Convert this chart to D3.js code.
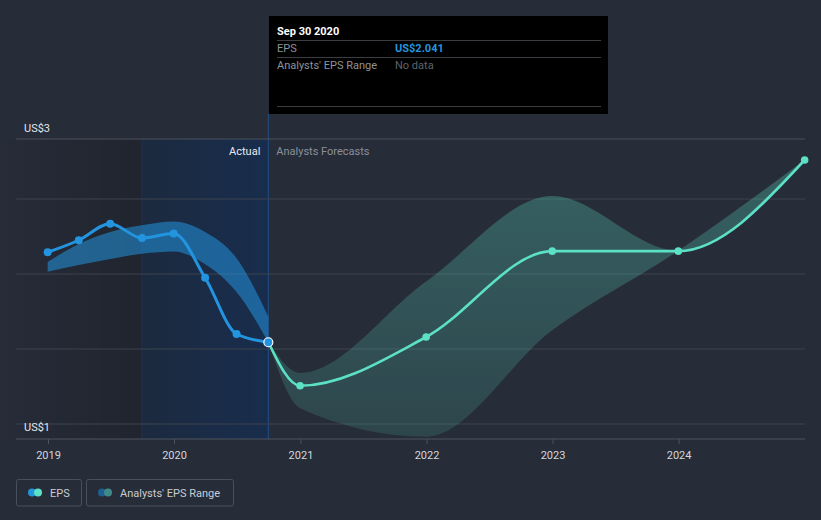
<!DOCTYPE html>
<html>
<head>
<meta charset="utf-8">
<script src="https://cdn.jsdelivr.net/npm/d3@7"></script>
<style>
  html, body { margin: 0; padding: 0; background: #262c38; }
  svg { display: block; font-family: Roboto, "Noto Sans", sans-serif; }
</style>
</head>
<body>
<svg width="821" height="520"></svg>
<script>
let width = 821,
  height = 520;

// EPS data (quarter ends)
const actualDates = ["2018-12-31", "2019-03-31", "2019-06-30", "2019-09-30", "2019-12-31", "2020-03-31", "2020-06-30", "2020-09-30"];
const actualEps = [3.29, 3.45, 3.67, 3.48, 3.54, 2.95, 2.20, 2.09];
const pastRangeLow = [3.03, 3.12, 3.20, 3.27, 3.30, 3.13, 2.76, 2.09];
const pastRangeHigh = [3.16, 3.40, 3.56, 3.65, 3.70, 3.56, 3.21, 2.43];

const forecastDates = ["2020-09-30", "2020-12-31", "2021-12-31", "2022-12-31", "2023-12-31", "2024-12-31"];
const forecastEps = [2.09, 1.51, 2.16, 3.305, 3.305, 4.52];
const forecastLow = [2.09, 1.21, 0.83, 2.25, 3.31, 4.52];
const forecastHigh = [2.09, 1.68, 2.90, 4.04, 3.31, 4.55];

const yearTicks = [2019, 2020, 2021, 2022, 2023, 2024];
const gridValues = [1, 2, 3, 4];
const yLabels = ["US$3", "US$1"];

const parse = d3.timeParse("%Y-%m-%d");

let svg = d3.select("svg");

let x = d3.scaleTime()
  .domain([new Date(2019, 0, 1), new Date(2025, 0, 1)])
  .range([48, 805]);

let y = d3.scaleLinear()
  .domain([1, 4.8])
  .range([424, 139]);

let plotLeft = 16, plotRight = 805, plotTop = y(4.8), plotBottom = 439;
let yearAgo = x(parse("2019-09-30")), now = x(parse("2020-09-30"));

let actual = actualDates.map((d, i) => ({ date: parse(d), v: actualEps[i], lo: pastRangeLow[i], hi: pastRangeHigh[i] }));
let forecast = forecastDates.map((d, i) => ({ date: parse(d), v: forecastEps[i], lo: forecastLow[i], hi: forecastHigh[i] }));

// gradients
let defs = svg.append("defs");
let g1 = defs.append("linearGradient").attr("id", "darkShade")
  .attr("gradientUnits", "userSpaceOnUse")
  .attr("x1", 0).attr("x2", yearAgo).attr("y1", 0).attr("y2", 0);
g1.append("stop").attr("offset", 0).attr("stop-color", "#000").attr("stop-opacity", 0);
g1.append("stop").attr("offset", 1).attr("stop-color", "#000").attr("stop-opacity", 0.17);

let g2 = defs.append("linearGradient").attr("id", "blueShade")
  .attr("gradientUnits", "userSpaceOnUse")
  .attr("x1", yearAgo).attr("x2", now).attr("y1", 0).attr("y2", 0);
g2.append("stop").attr("offset", 0).attr("stop-color", "#1c2a3f");
g2.append("stop").attr("offset", 1).attr("stop-color", "#182d4d");

let g3 = defs.append("linearGradient").attr("id", "tealBand")
  .attr("gradientUnits", "userSpaceOnUse")
  .attr("x1", 0).attr("x2", 0).attr("y1", 160).attr("y2", 440);
g3.append("stop").attr("offset", 0).attr("stop-color", "#5ce0c6").attr("stop-opacity", 0.3);
g3.append("stop").attr("offset", 1).attr("stop-color", "#5ce0c6").attr("stop-opacity", 0.14);

// background regions
svg.append("rect")
  .attr("x", 0).attr("y", plotTop)
  .attr("width", yearAgo).attr("height", plotBottom - plotTop)
  .attr("fill", "url(#darkShade)");

svg.append("rect")
  .attr("x", yearAgo).attr("y", plotTop)
  .attr("width", now - yearAgo).attr("height", plotBottom - plotTop)
  .attr("fill", "url(#blueShade)");

svg.append("line")
  .attr("x1", yearAgo).attr("x2", yearAgo).attr("y1", plotTop).attr("y2", plotBottom)
  .attr("stroke", "#1f3250").attr("stroke-width", 1);

svg.append("line")
  .attr("x1", now).attr("x2", now).attr("y1", 114).attr("y2", plotBottom)
  .attr("stroke", "#1f4a7a").attr("stroke-width", 1.2);

// grid lines
svg.append("g")
  .selectAll("line")
  .data(gridValues)
  .enter()
  .append("line")
  .attr("x1", plotLeft).attr("x2", plotRight)
  .attr("y1", (d) => y(d)).attr("y2", (d) => y(d))
  .attr("stroke", "#3c424e").attr("stroke-width", 1);

svg.append("line")
  .attr("x1", plotLeft).attr("x2", plotRight).attr("y1", plotTop).attr("y2", plotTop)
  .attr("stroke", "#4a505b").attr("stroke-width", 1);

// x axis
let xAxis = d3.axisBottom(x)
  .tickValues(yearTicks.map((yr) => new Date(yr, 0, 1)))
  .tickFormat(d3.timeFormat("%Y"))
  .tickSize(5)
  .tickSizeOuter(0);

let axisG = svg.append("g")
  .attr("transform", "translate(0," + plotBottom + ")")
  .call(xAxis);
axisG.select(".domain").remove();
axisG.insert("line", ":first-child")
  .attr("x1", plotLeft).attr("x2", plotRight).attr("y1", 0).attr("y2", 0)
  .attr("stroke", "#4d535e");
axisG.selectAll(".tick line").attr("stroke", "#4d535e");
axisG.selectAll(".tick text")
  .attr("fill", "#d4d7dc")
  .attr("font-size", "11px")
  .attr("dy", "1.05em")
  .style("font-family", "Roboto, sans-serif");

// y labels
svg.append("text")
  .attr("x", 24).attr("y", 132)
  .attr("fill", "#e4e6ea").attr("font-size", "11px")
  .text(yLabels[0]);
svg.append("text")
  .attr("x", 24).attr("y", 431)
  .attr("fill", "#e4e6ea").attr("font-size", "11px")
  .text(yLabels[1]);

// section labels
svg.append("text")
  .attr("x", now - 8).attr("y", 155)
  .attr("text-anchor", "end")
  .attr("fill", "#e8eaee").attr("font-size", "11px")
  .text("Actual");
svg.append("text")
  .attr("x", now + 8).attr("y", 155)
  .attr("fill", "#8b9099").attr("font-size", "11px")
  .text("Analysts Forecasts");

// bands
let band = d3.area()
  .x((d) => x(d.date))
  .y0((d) => y(d.lo))
  .y1((d) => y(d.hi))
  .curve(d3.curveMonotoneX);

svg.append("path")
  .datum(actual)
  .attr("d", band)
  .attr("fill", "#2394df")
  .attr("fill-opacity", 0.55);

svg.append("path")
  .datum(forecast)
  .attr("d", band)
  .attr("fill", "url(#tealBand)");

// lines
let line = d3.line()
  .x((d) => x(d.date))
  .y((d) => y(d.v))
  .curve(d3.curveMonotoneX);

svg.append("path")
  .datum(forecast)
  .attr("d", line)
  .attr("fill", "none")
  .attr("stroke", "#5ce0c6")
  .attr("stroke-width", 2.6);

svg.append("path")
  .datum(actual)
  .attr("d", line)
  .attr("fill", "none")
  .attr("stroke", "#2394df")
  .attr("stroke-width", 3);

svg.append("g")
  .selectAll("circle")
  .data(forecast.slice(1))
  .enter()
  .append("circle")
  .attr("cx", (d) => x(d.date))
  .attr("cy", (d) => y(d.v))
  .attr("r", 3.8)
  .attr("fill", "#5ce0c6");

svg.append("g")
  .selectAll("circle")
  .data(actual)
  .enter()
  .append("circle")
  .attr("cx", (d) => x(d.date))
  .attr("cy", (d) => y(d.v))
  .attr("r", (d, i) => i == actual.length - 1 ? 4.5 : 4)
  .attr("fill", "#2394df")
  .attr("stroke", (d, i) => i == actual.length - 1 ? "#ffffff" : "none")
  .attr("stroke-width", 1.2);

// tooltip
let tip = svg.append("g");
tip.append("rect")
  .attr("x", 269).attr("y", 16)
  .attr("width", 339).attr("height", 98)
  .attr("fill", "#000");
[40.5, 57.5, 106.5].forEach((ly) => {
  tip.append("line")
    .attr("x1", 277).attr("x2", 601).attr("y1", ly).attr("y2", ly)
    .attr("stroke", "#3a3d42");
});
tip.append("text")
  .attr("x", 277).attr("y", 35)
  .attr("fill", "#ffffff").attr("font-size", "11px").attr("font-weight", "bold")
  .text("Sep 30 2020");
tip.append("text")
  .attr("x", 277).attr("y", 52)
  .attr("fill", "#8e939b").attr("font-size", "11px")
  .text("EPS");
tip.append("text")
  .attr("x", 395).attr("y", 52)
  .attr("fill", "#2394df").attr("font-size", "11px").attr("font-weight", "bold")
  .text("US$2.041");
tip.append("text")
  .attr("x", 277).attr("y", 69)
  .attr("fill", "#8e939b").attr("font-size", "11px")
  .text("Analysts' EPS Range");
tip.append("text")
  .attr("x", 395).attr("y", 69)
  .attr("fill", "#5f646c").attr("font-size", "11px")
  .text("No data");

// legend
let legendItems = [
  { label: "EPS", x: 16.5, w: 65, c1: "#2394df", c2: "#5ce0c6" },
  { label: "Analysts' EPS Range", x: 86.5, w: 147, c1: "#1f5f92", c2: "#3f8a86" }
];
let lg = svg.append("g")
  .selectAll("g")
  .data(legendItems)
  .enter()
  .append("g")
  .attr("transform", (d) => "translate(" + d.x + ",479.5)");
lg.append("rect")
  .attr("width", (d) => d.w).attr("height", 26.5)
  .attr("rx", 2)
  .attr("fill", "none")
  .attr("stroke", "#4a505b");
lg.append("circle")
  .attr("cx", 15.5).attr("cy", 13).attr("r", 4)
  .attr("fill", (d) => d.c1);
lg.append("circle")
  .attr("cx", 21.5).attr("cy", 13).attr("r", 4)
  .attr("fill", (d) => d.c2);
lg.append("text")
  .attr("x", 33.5).attr("y", 17)
  .attr("fill", "#c9ccd2").attr("font-size", "11px")
  .text((d) => d.label);
</script>
</body>
</html>
